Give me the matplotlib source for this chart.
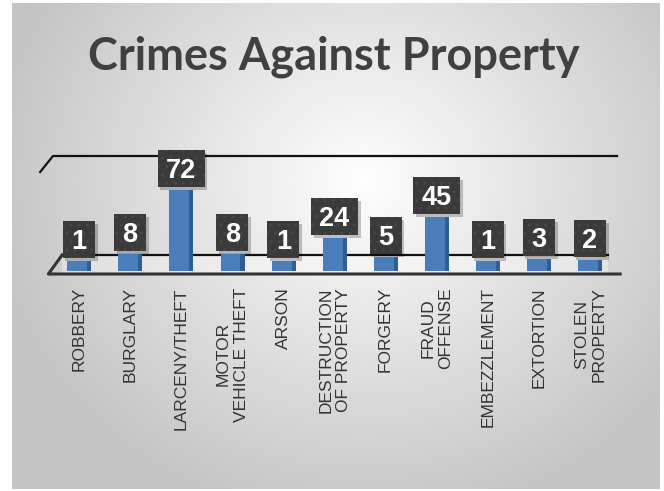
import numpy as np
import matplotlib.pyplot as plt
from matplotlib.patches import Rectangle

categories = ["ROBBERY", "BURGLARY", "LARCENY/THEFT", "MOTOR\nVEHICLE THEFT", "ARSON",
              "DESTRUCTION\nOF PROPERTY", "FORGERY", "FRAUD\nOFFENSE", "EMBEZZLEMENT",
              "EXTORTION", "STOLEN\nPROPERTY"]
values = [1, 8, 72, 8, 1, 24, 5, 45, 1, 3, 2]
title = "Crimes Against Property"

W, H = 664, 491
fig = plt.figure(figsize=(W/100, H/100), dpi=100)
fig.patch.set_facecolor("white")

# slide background with radial gradient
bg = fig.add_axes([0, 0, 1, 1])
bg.axis("off")
xx, yy = np.meshgrid(np.arange(W), np.arange(H))
r = np.sqrt((xx - 360)**2 + ((yy - 180)*1.1)**2)
shade = np.clip(254 - 0.15*r, 196, 254) / 255.0
img = np.dstack([shade, shade, shade])
bg.imshow(img, extent=(12, 660, 489, 3), zorder=0)
bg.set_xlim(0, W)
bg.set_ylim(H, 0)

fig.text(334/W, 1 - 57/H, title, ha="center", va="center", fontsize=32.5,
         fontweight="bold", color="#404040", family="Lato")

# chart axes: 1 y-unit == 1 pixel, x index spacing 51.1 px
x0 = 79 - 0.5*51.1
ax = fig.add_axes([x0/W, (H - 274)/H, 11*51.1/W, 118/H])
ax.set_xlim(-0.5, 10.5)
ax.set_ylim(-12, 106)
ax.patch.set_alpha(0)
for s in ax.spines.values():
    s.set_visible(False)
ax.set_yticks([])

# wall and floor lines
ax.plot([-0.76, -0.51, 10.53], [90, 106, 106], color="#111111", lw=1.6, clip_on=False)
ax.fill_between([-0.33, 10.35], [7, 7], [-12, -12], color="white", alpha=0.35, lw=0)
ax.plot([-0.33, 10.35], [7, 7], color="#111111", lw=1.6, clip_on=False, zorder=1)
ax.plot([-0.33, -0.6, 10.59], [7, -12, -12], color="#333333", lw=2.2, clip_on=False, zorder=1)

x = np.arange(len(values))
v = np.array(values)
ax.bar(x - 0.03, v + 9, bottom=-9, width=0.4, color="#4a7ebb", zorder=2)
ax.bar(x + 0.2, v + 9, bottom=-9, width=0.08, color="#2f5e96", zorder=2)

for i, val in enumerate(values):
    bw = 0.63 if val < 10 else 0.92
    cy = val + 22
    ax.add_patch(Rectangle((i - bw/2 + 0.05, cy - 18.5 - 3), bw, 37, facecolor="black",
                           alpha=0.22, lw=0, zorder=3, clip_on=False))
    ax.add_patch(Rectangle((i - bw/2, cy - 18.5), bw, 37, facecolor="#3a3a3a",
                           edgecolor="#474747", hatch="..", lw=0, zorder=4, clip_on=False))
    ax.text(i, cy, str(val), ha="center", va="center_baseline", fontsize=19.5,
            fontweight="bold", color="white", family="Liberation Sans", zorder=5)

ax.set_xticks(x)
ax.set_xticklabels(categories, rotation=90, va="top", ha="center", multialignment="center",
                   fontsize=12.5, color="#333333", family="Liberation Sans")
ax.tick_params(axis="x", length=0, pad=9.5)

fig.savefig("out.png", dpi=100, facecolor="white")
